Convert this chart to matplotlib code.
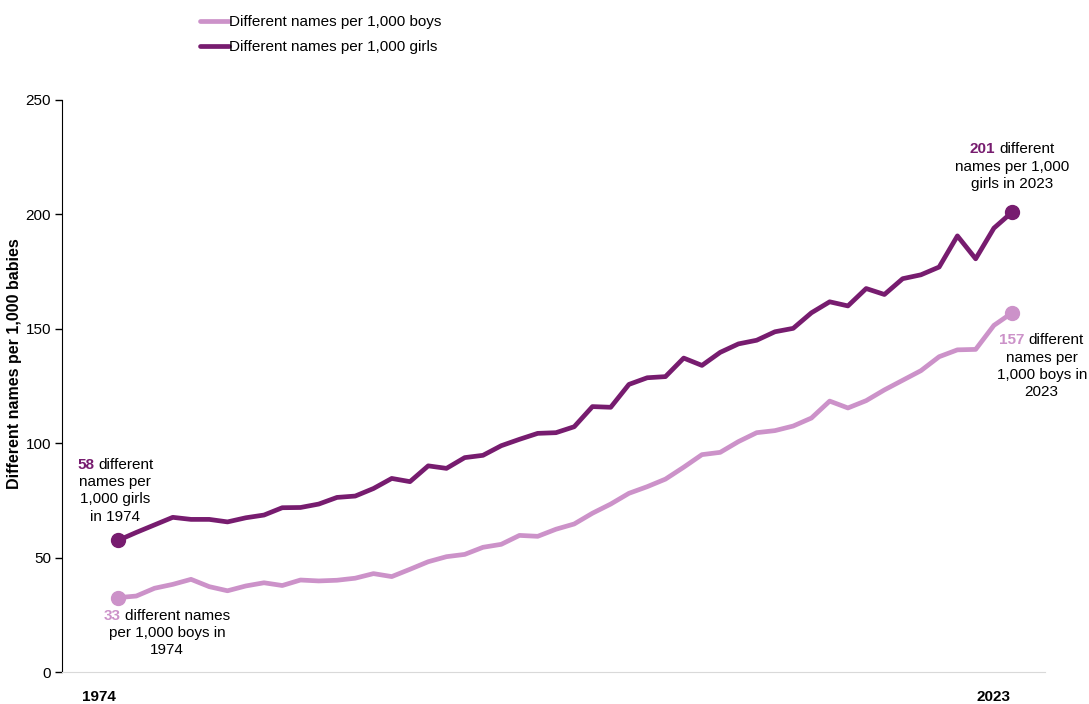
import matplotlib
matplotlib.use("Agg")
import matplotlib.pyplot as plt
from matplotlib.offsetbox import TextArea, HPacker, VPacker, AnnotationBbox
from matplotlib.transforms import ScaledTranslation

plt.rcParams['font.family'] = ['Liberation Sans', 'DejaVu Sans']

years = list(range(1974, 2024))
boys = [32.5, 33.2, 36.6, 38.3, 40.5, 37.3, 35.5, 37.6, 39.0, 37.8,
        40.2, 39.8, 40.1, 41.0, 43.0, 41.7, 44.9, 48.2, 50.4, 51.4,
        54.5, 55.8, 59.7, 59.3, 62.4, 64.7, 69.4, 73.4, 78.1, 81.0,
        84.3, 89.5, 95.0, 96.0, 100.7, 104.6, 105.5, 107.5, 111.0, 118.4,
        115.4, 118.6, 123.3, 127.5, 131.7, 137.8, 140.8, 141.0, 151.5, 157.0]
girls = [57.5, 61.0, 64.3, 67.6, 66.7, 66.7, 65.6, 67.4, 68.6, 71.8,
         71.9, 73.4, 76.3, 76.9, 80.2, 84.6, 83.2, 90.1, 89.0, 93.7,
         94.7, 98.9, 101.7, 104.3, 104.6, 107.2, 116.0, 115.7, 125.7, 128.6,
         129.1, 137.2, 134.0, 139.7, 143.4, 145.0, 148.7, 150.2, 157.0, 161.8,
         160.0, 167.6, 165.0, 171.9, 173.6, 177.0, 190.6, 180.6, 194.0, 201.0]
series_labels = ["Different names per 1,000 boys", "Different names per 1,000 girls"]
y_ticks = [0, 50, 100, 150, 200, 250]
x_tick_years = [1974, 2023]

BOYS_C = "#CC92C9"
GIRLS_C = "#771C6F"
FS = 11

fig = plt.figure(figsize=(10.89, 7.04), dpi=100)
ax = fig.add_axes([62/1089, 1 - 672/704, (1045 - 62)/1089, (672 - 100)/704])

ax.plot(years, boys, color=BOYS_C, lw=3.4, marker='o', markersize=10,
        markevery=[0, len(years) - 1], solid_capstyle='round', label=series_labels[0])
ax.plot(years, girls, color=GIRLS_C, lw=3.4, marker='o', markersize=10,
        markevery=[0, len(years) - 1], solid_capstyle='round', label=series_labels[1])

ax.set_xlim(1970.93, 2024.8)
ax.set_ylim(0, 250)
ax.set_yticks(y_ticks)
ax.set_xticks(x_tick_years)
ax.set_xticklabels([str(y) for y in x_tick_years], fontweight='bold', fontsize=FS)
ax.tick_params(axis='x', length=0, pad=13)
# labels sit a little left of their year, as in the original
for lab in ax.get_xticklabels():
    lab.set_transform(lab.get_transform() + ScaledTranslation(-0.19, 0, fig.dpi_scale_trans))
ax.tick_params(axis='y', length=5, width=1, direction='out', labelsize=FS, pad=3)
for s in ['top', 'right']:
    ax.spines[s].set_visible(False)
ax.spines['left'].set_color('black')
ax.spines['bottom'].set_color('#D9D9D9')

fig.text(15/1089, 1 - 364/704, "Different names per 1,000 babies", rotation=90,
         fontweight='bold', fontsize=11.5, ha='center', va='center')


def label_block(x, y, num, color, lines):
    first = HPacker(children=[
        TextArea(num, textprops=dict(color=color, fontweight='bold', fontsize=FS)),
        TextArea(lines[0], textprops=dict(fontsize=FS))],
        align="baseline", pad=0, sep=3)
    rest = [TextArea(l, textprops=dict(fontsize=FS)) for l in lines[1:]]
    box = VPacker(children=[first] + rest, align="center", pad=0, sep=2.3)
    ab = AnnotationBbox(box, (x, y), xycoords='data', frameon=False,
                        box_alignment=(0.5, 1), annotation_clip=False)
    ax.add_artist(ab)


label_block(1973.85, 93.5, "58", GIRLS_C, ["different", "names per", "1,000 girls", "in 1974"])
label_block(1976.7, 27.5, "33", BOYS_C, ["different names", "per 1,000 boys in", "1974"])
label_block(2023.0, 231.5, "201", GIRLS_C, ["different", "names per 1,000", "girls in 2023"])
label_block(2024.62, 148, "157", BOYS_C, ["different", "names per", "1,000 boys in", "2023"])

fig.legend(loc='upper left', bbox_to_anchor=(200/1089, 1 - 15/704), frameon=False,
           fontsize=FS, handlelength=1.9, handletextpad=0, labelspacing=0.72,
           borderpad=0, borderaxespad=0, markerscale=0)

fig.savefig("out.png", dpi=100)
